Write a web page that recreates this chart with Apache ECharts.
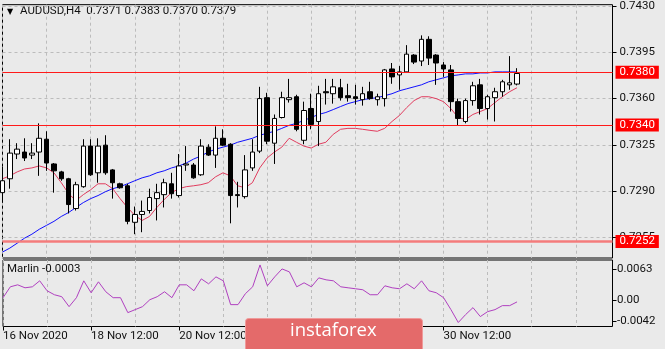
<!DOCTYPE html>
<html><head><meta charset="utf-8">
<script src="https://cdn.jsdelivr.net/npm/echarts@6/dist/echarts.min.js"></script>
<style>html,body{margin:0;padding:0;background:#eaeaea;}#c{width:665px;height:349px;}</style>
</head><body><div id="c"></div>
<script>
const symbol = 'AUDUSD,H4';
const year = '2020';
const categories = [
'16 Nov 12:00','16 Nov 16:00','16 Nov 20:00',
'17 Nov 00:00','17 Nov 04:00','17 Nov 08:00','17 Nov 12:00','17 Nov 16:00','17 Nov 20:00',
'18 Nov 00:00','18 Nov 04:00','18 Nov 08:00','18 Nov 12:00','18 Nov 16:00','18 Nov 20:00',
'19 Nov 00:00','19 Nov 04:00','19 Nov 08:00','19 Nov 12:00','19 Nov 16:00','19 Nov 20:00',
'20 Nov 00:00','20 Nov 04:00','20 Nov 08:00','20 Nov 12:00','20 Nov 16:00','20 Nov 20:00',
'23 Nov 00:00','23 Nov 04:00','23 Nov 08:00','23 Nov 12:00','23 Nov 16:00','23 Nov 20:00',
'24 Nov 00:00','24 Nov 04:00','24 Nov 08:00','24 Nov 12:00','24 Nov 16:00','24 Nov 20:00',
'25 Nov 00:00','25 Nov 04:00','25 Nov 08:00','25 Nov 12:00','25 Nov 16:00','25 Nov 20:00',
'26 Nov 00:00','26 Nov 04:00','26 Nov 08:00','26 Nov 12:00','26 Nov 16:00','26 Nov 20:00',
'27 Nov 00:00','27 Nov 04:00','27 Nov 08:00','27 Nov 12:00','27 Nov 16:00','27 Nov 20:00',
'30 Nov 00:00','30 Nov 04:00','30 Nov 08:00','30 Nov 12:00','30 Nov 16:00','30 Nov 20:00',
'1 Dec 00:00','1 Dec 04:00','1 Dec 08:00','1 Dec 12:00','1 Dec 16:00','1 Dec 20:00',
'2 Dec 00:00','2 Dec 04:00'];
const futureSlots = 13;

const open = [
.72889,.72994,.73181,.73196,.73173,.73196,.73293,.73106,.73046,.72994,
.72769,.72934,.73241,.73039,.73248,.73061,.72956,.72941,.72665,.72724,
.72754,.72844,.72874,.72956,.72867,.73098,.73098,.73024,.73233,.73173,
.73300,.73255,.72874,.72859,.73076,.73203,.73607,.73263,.73457,.73592,
.73614,.73285,.73525,.73427,.73652,.73637,.73682,.73622,.73614,.73592,
.73652,.73592,.73600,.73824,.73779,.73802,.73929,.73884,.74048,.73929,
.73854,.73817,.73577,.73427,.73585,.73704,.73525,.73607,.73652,.73704,
.73710];
const close = [
.72979,.73188,.73218,.73151,.73188,.73300,.73113,.73054,.72994,.72799,
.72949,.73241,.73024,.73241,.73039,.72964,.72926,.72672,.72724,.72747,
.72852,.72889,.72964,.72881,.73091,.73106,.73001,.73241,.73173,.73300,
.73248,.72867,.72867,.73061,.73196,.73600,.73278,.73450,.73607,.73607,
.73368,.73510,.73405,.73637,.73644,.73689,.73607,.73607,.73600,.73637,
.73600,.73614,.73817,.73764,.73802,.73936,.73876,.74048,.73906,.73869,
.73824,.73577,.73450,.73585,.73697,.73525,.73614,.73652,.73727,.73719,
.73790];
const low = [
.72814,.72919,.73143,.73128,.73143,.73016,.73054,.72889,.72979,.72732,
.72754,.72926,.73016,.72964,.73024,.72844,.72919,.72650,.72575,.72590,
.72732,.72679,.72777,.72844,.72852,.73054,.72994,.73016,.73166,.73076,
.73241,.72657,.72777,.72844,.73054,.73188,.73255,.73106,.73450,.73570,
.73353,.73255,.73368,.73241,.73555,.73562,.73585,.73577,.73555,.73547,
.73592,.73547,.73540,.73712,.73667,.73794,.73861,.73846,.73854,.73704,
.73764,.73502,.73398,.73413,.73547,.73480,.73442,.73427,.73614,.73667,
.73700];
const high = [
.73083,.73293,.73263,.73300,.73263,.73413,.73353,.73113,.73054,.73001,
.72971,.73293,.73293,.73300,.73323,.73068,.72964,.72956,.72784,.72829,
.72919,.72956,.72994,.73039,.73181,.73241,.73113,.73293,.73255,.73390,
.73368,.73263,.72971,.73173,.73293,.73689,.73644,.73480,.73652,.73749,
.73629,.73577,.73637,.73697,.73749,.73749,.73749,.73712,.73704,.73689,
.73727,.73637,.73824,.73869,.73846,.74004,.73936,.74078,.74071,.73936,
.73876,.73854,.73600,.73600,.73727,.73749,.73629,.73682,.73742,.73921,
.73830];

const maBlue = [
.72440,.72470,.72507,.72545,.72575,.72612,.72642,.72672,.72709,.72739,
.72777,.72814,.72844,.72867,.72896,.72919,.72934,.72956,.72979,.73001,
.73016,.73039,.73054,.73076,.73091,.73113,.73143,.73166,.73196,.73218,
.73233,.73248,.73270,.73285,.73300,.73323,.73338,.73353,.73375,.73398,
.73413,.73435,.73457,.73480,.73495,.73517,.73540,.73562,.73577,.73592,
.73600,.73607,.73622,.73637,.73659,.73674,.73689,.73704,.73727,.73742,
.73757,.73772,.73779,.73787,.73787,.73794,.73794,.73802,.73802,.73802,
.73802];
const maRed = [
.72994,.73016,.73046,.73068,.73076,.73091,.73076,.73039,.72964,.72881,
.72829,.72874,.72911,.72956,.72956,.72919,.72844,.72777,.72717,.72679,
.72709,.72777,.72837,.72889,.72919,.72934,.72941,.72949,.72964,.73009,
.73039,.73016,.72941,.72926,.72964,.73076,.73151,.73196,.73233,.73300,
.73270,.73241,.73226,.73255,.73270,.73330,.73368,.73375,.73375,.73368,
.73360,.73353,.73375,.73427,.73472,.73532,.73585,.73614,.73614,.73600,
.73577,.73525,.73457,.73442,.73480,.73502,.73525,.73570,.73614,.73652,
.73682];
const marlin = [
.00054,.00272,.00312,.00252,.00272,.00392,.00193,.00113,.00074,-.00125,
.00054,.00392,.00153,.00372,.00173,.00054,.00054,-.00245,-.00185,-.00125,
.00014,.00074,.00173,.00054,.00312,.00312,.00193,.00431,.00332,.00471,
.00392,-.00085,-.00085,.00133,.00272,.00710,.00292,.00471,.00630,.00571,
.00272,.00352,.00272,.00451,.00412,.00392,.00272,.00252,.00233,.00213,
.00113,.00113,.00292,.00252,.00233,.00332,.00233,.00392,.00193,.00153,
.00054,-.00185,-.00443,-.00284,-.00145,-.00324,-.00225,-.00185,-.00105,-.00105,
-.0003];

const priceTicks = [0.7430, 0.7395, 0.7360, 0.7325, 0.7290, 0.7255];
const marlinTicks = [0.0063, 0, -0.0042];
const levels = [0.7380, 0.7340, 0.7252];
const priceRange = [0.72395, 0.74310];
const marlinRange = [-0.00523, 0.00809];

const FONT = 'Roboto';
const FS = 11.5;
const xData = categories.concat(Array(futureSlots).fill(''));
const candles = open.map((o, i) => [o, close[i], low[i], high[i]]);
const last = open.length - 1;
const headerText = symbol + '  ' + [open[last], high[last], low[last], close[last]].map(v => v.toFixed(4)).join(' ');
const gridDash = { color: '#bcbcbc', type: [3, 3], width: 1 };
const labelEvery = (i, v) => i % 12 === 0 && v !== '';
const gridEvery = (i) => i % 6 === 0;

const chart = echarts.init(document.getElementById('c'), null, { renderer: 'canvas' });
chart.setOption({
  animation: false,
  backgroundColor: '#eaeaea',
  textStyle: { fontFamily: FONT },
  grid: [
    { left: 2.5, top: 2, width: 610, height: 256, show: true, borderColor: '#000', borderWidth: 1, backgroundColor: 'transparent' },
    { left: 2.5, top: 260, width: 610, height: 66.5, show: true, borderColor: '#000', borderWidth: 1, backgroundColor: 'transparent' }
  ],
  xAxis: [
    { type: 'category', gridIndex: 0, data: xData, boundaryGap: false,
      axisLine: { show: false, onZero: false }, axisTick: { show: false }, axisLabel: { show: false },
      splitLine: { show: true, interval: gridEvery, lineStyle: gridDash } },
    { type: 'category', gridIndex: 1, data: xData, boundaryGap: false, position: 'bottom',
      axisLine: { show: false, onZero: false },
      axisTick: { show: true, interval: labelEvery, length: 4, lineStyle: { color: '#000' } },
      axisLabel: { interval: labelEvery, align: 'left', margin: 4, color: '#111', fontFamily: FONT, fontSize: FS,
        formatter: (v, i) => i === 0 ? v.split(' ').slice(0, 2).join(' ') + ' ' + year : v },
      splitLine: { show: true, interval: gridEvery, lineStyle: gridDash } }
  ],
  yAxis: [
    { type: 'value', gridIndex: 0, position: 'right', min: priceRange[0], max: priceRange[1],
      axisLine: { show: false }, splitLine: { show: false },
      axisTick: { show: true, customValues: priceTicks, length: 4, lineStyle: { color: '#000' } },
      axisLabel: { customValues: priceTicks, formatter: v => v.toFixed(4), margin: 7, color: '#111', fontFamily: FONT, fontSize: FS } },
    { type: 'value', gridIndex: 1, position: 'right', min: marlinRange[0], max: marlinRange[1],
      axisLine: { show: false }, splitLine: { show: false },
      axisTick: { show: true, customValues: marlinTicks, length: 4, lineStyle: { color: '#000' } },
      axisLabel: { customValues: marlinTicks, formatter: v => v === 0 ? '0.00' : v.toFixed(4), margin: 4.5, color: '#111', fontFamily: FONT, fontSize: FS } }
  ],
  series: [
    { type: 'line', xAxisIndex: 0, yAxisIndex: 0, data: maRed, symbol: 'none', z: 2,
      lineStyle: { color: '#e03c5e', width: 1 },
      markLine: { silent: true, symbol: 'none', precision: 6, label: { show: false }, lineStyle: gridDash, z: 1,
        data: priceTicks.map(v => ({ yAxis: v })) } },
    { type: 'candlestick', xAxisIndex: 0, yAxisIndex: 0, data: candles, barWidth: 5, z: 3,
      itemStyle: { color: '#ffffff', color0: '#000000', borderColor: '#000000', borderColor0: '#000000', borderWidth: 1 } },
    { type: 'line', xAxisIndex: 0, yAxisIndex: 0, data: maBlue, symbol: 'none', z: 2,
      lineStyle: { color: '#1010ff', width: 1 },
      markLine: { silent: true, symbol: 'none', precision: 6,
        label: { show: true, position: 'end', distance: 3, backgroundColor: '#ff0000', color: '#fff',
          fontFamily: FONT, fontSize: FS, lineHeight: 12, padding: [1, 4, 0, 4], formatter: p => p.value.toFixed(4) },
        data: levels.map((v, k) => ({ yAxis: v,
          lineStyle: k === 2 ? { color: '#f47c7c', width: 2.5, type: 'solid' } : { color: '#ff1a1a', width: 1, type: 'solid' } })) } },
    { type: 'line', xAxisIndex: 1, yAxisIndex: 1, data: marlin, symbol: 'none',
      lineStyle: { color: '#b040c0', width: 1 } }
  ],
  graphic: [
    { type: 'text', left: 7, top: 8, style: { text: '▼', fontSize: 8, fill: '#000', fontFamily: 'DejaVu Sans' } },
    { type: 'text', left: 20, top: 5, style: { text: headerText, fontSize: FS, fill: '#111', fontFamily: FONT } },
    { type: 'text', left: 7, top: 263, style: { text: 'Marlin ' + marlin[last].toFixed(4), fontSize: FS, fill: '#111', fontFamily: FONT } },
    { type: 'rect', left: 245, top: 318, z: 100, zlevel: 1, shape: { width: 177, height: 40, r: 3 }, style: { fill: '#e46a6a', stroke: '#ef9a9a', lineWidth: 1 } },
    { type: 'text', left: 290, top: 321, z: 101, zlevel: 1, style: { text: 'instaforex', fontSize: 18.5, fill: '#ffffff', fontFamily: 'Open Sans' } }
  ]
});
</script></body></html>
